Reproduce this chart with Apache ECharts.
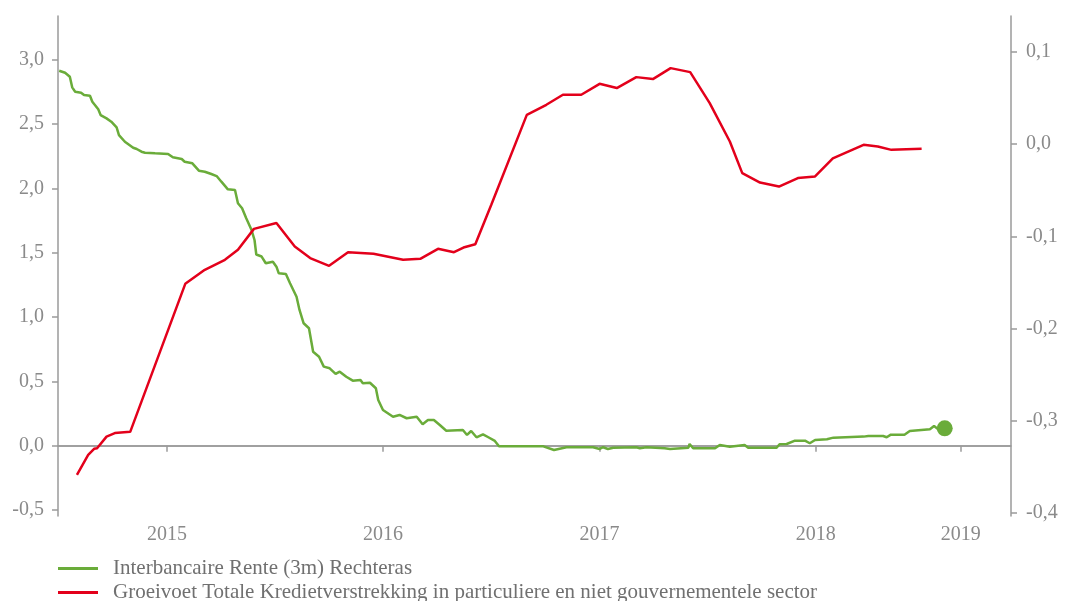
<!DOCTYPE html>
<html>
<head>
<meta charset="utf-8">
<script src="https://cdn.jsdelivr.net/npm/echarts@6/dist/echarts.min.js"></script>
<style>
  html, body { margin: 0; padding: 0; background: #fff; }
  #chart { width: 1065px; height: 601px; }
</style>
</head>
<body>
<div id="chart"></div>
<script>
// groeivoet kredietverstrekking (linkeras)
const redDates = [
  '2014-08-02', '2014-08-21', '2014-08-31', '2014-09-05', '2014-09-21', '2014-10-05', '2014-10-31',
  '2015-02-01', '2015-03-06', '2015-04-09', '2015-05-01', '2015-05-28', '2015-07-05', '2015-08-05',
  '2015-08-31', '2015-10-02', '2015-11-03', '2015-12-16', '2016-02-04', '2016-03-04', '2016-04-03',
  '2016-04-30', '2016-05-16', '2016-06-05', '2016-07-02', '2016-08-31', '2016-10-03', '2016-10-31',
  '2016-12-01', '2017-01-01', '2017-01-30', '2017-03-04', '2017-04-01', '2017-05-01', '2017-06-03',
  '2017-07-06', '2017-08-09', '2017-08-30', '2017-09-29', '2017-10-31', '2017-12-02', '2017-12-31',
  '2018-01-30', '2018-02-22', '2018-03-23', '2018-04-16', '2018-05-09', '2018-06-29'
]
const redValues = [
  -0.225, -0.07, -0.023, -0.018, 0.072, 0.099, 0.109,
  1.259, 1.368, 1.446, 1.523, 1.686, 1.731, 1.549,
  1.459, 1.399, 1.505, 1.492, 1.446, 1.453, 1.531,
  1.505, 1.541, 1.566, 1.873, 2.572, 2.650, 2.728,
  2.728, 2.813, 2.780, 2.865, 2.850, 2.935, 2.904,
  2.663, 2.365, 2.119, 2.046, 2.015, 2.081, 2.093,
  2.233, 2.280, 2.339, 2.326, 2.300, 2.308
]

// interbancaire rente 3m (rechteras)
const greenDates = [
  '2014-07-03', '2014-07-13', '2014-07-21', '2014-07-25', '2014-07-30', '2014-08-09', '2014-08-14',
  '2014-08-24', '2014-08-28', '2014-09-07', '2014-09-11', '2014-09-21', '2014-09-29', '2014-10-08',
  '2014-10-12', '2014-10-22', '2014-11-05', '2014-11-11', '2014-11-19', '2014-11-25', '2014-12-12',
  '2015-01-03', '2015-01-11', '2015-01-26', '2015-01-31', '2015-02-13', '2015-02-24', '2015-03-06',
  '2015-03-17', '2015-03-26', '2015-04-03', '2015-04-14', '2015-04-26', '2015-05-01', '2015-05-08',
  '2015-05-15', '2015-05-24', '2015-05-29', '2015-06-01', '2015-06-10', '2015-06-17', '2015-06-29',
  '2015-07-05', '2015-07-09', '2015-07-21', '2015-07-28', '2015-08-08', '2015-08-13', '2015-08-20',
  '2015-08-29', '2015-09-05', '2015-09-15', '2015-09-23', '2015-10-03', '2015-10-13', '2015-10-20',
  '2015-10-31', '2015-11-11', '2015-11-24', '2015-11-28', '2015-12-10', '2015-12-20', '2015-12-24',
  '2016-01-01', '2016-01-18', '2016-01-29', '2016-02-10', '2016-02-27', '2016-03-08', '2016-03-17',
  '2016-03-27', '2016-04-06', '2016-04-17', '2016-05-15', '2016-05-22', '2016-05-29', '2016-06-07',
  '2016-06-18', '2016-06-27', '2016-07-08', '2016-07-15', '2016-09-28', '2016-10-16', '2016-11-06',
  '2016-12-21', '2017-01-01', '2017-01-07', '2017-01-15', '2017-01-24', '2017-03-04', '2017-03-10',
  '2017-03-21', '2017-04-21', '2017-04-30', '2017-05-31', '2017-06-02', '2017-06-08', '2017-07-15',
  '2017-07-23', '2017-08-09', '2017-09-03', '2017-09-09', '2017-10-27', '2017-11-01', '2017-11-13',
  '2017-11-27', '2017-12-14', '2017-12-22', '2017-12-31', '2018-01-20', '2018-01-31', '2018-03-23',
  '2018-03-31', '2018-04-25', '2018-05-01', '2018-05-08', '2018-05-31', '2018-06-09', '2018-07-13',
  '2018-07-20', '2018-07-27', '2018-08-07'
]
const greenValues = [
  0.0794, 0.0772, 0.0729, 0.0614, 0.0567, 0.0556, 0.0531,
  0.0523, 0.0458, 0.0376, 0.0314, 0.0278, 0.0242, 0.0181,
  0.0097, 0.0025, -0.0040, -0.0054, -0.0083, -0.0094, -0.0101,
  -0.0108, -0.0144, -0.0162, -0.0192, -0.0209, -0.0289, -0.0300,
  -0.0325, -0.0347, -0.0408, -0.0491, -0.0498, -0.0642, -0.0696,
  -0.0805, -0.0932, -0.1040, -0.1197, -0.1219, -0.1292, -0.1275,
  -0.1329, -0.1401, -0.1408, -0.1509, -0.1654, -0.1798, -0.1942,
  -0.1996, -0.2250, -0.2304, -0.2412, -0.2430, -0.2491, -0.2466,
  -0.2521, -0.2564, -0.2556, -0.2592, -0.2586, -0.2646, -0.2773,
  -0.2881, -0.2954, -0.2935, -0.2971, -0.2954, -0.3036, -0.2990,
  -0.2990, -0.3044, -0.3106, -0.3098, -0.3152, -0.3109, -0.3177,
  -0.3145, -0.3177, -0.3217, -0.3275, -0.3275, -0.3315, -0.3285,
  -0.3285, -0.3304, -0.3285, -0.3304, -0.3290, -0.3285, -0.3296,
  -0.3285, -0.3296, -0.3304, -0.3290, -0.3250, -0.3296, -0.3296,
  -0.3260, -0.3279, -0.3260, -0.3290, -0.3290, -0.3253, -0.3250,
  -0.3214, -0.3214, -0.3242, -0.3206, -0.3199, -0.3181, -0.3170,
  -0.3163, -0.3163, -0.3177, -0.3149, -0.3149, -0.3109, -0.3090,
  -0.3055, -0.3090, -0.3080
]

const leftTicks = [-0.5, 0, 0.5, 1.0, 1.5, 2.0, 2.5, 3.0]
const rightTicks = [-0.4, -0.3, -0.2, -0.1, 0, 0.1]
const xTickDates = ['2015-01-01', '2016-01-01', '2017-01-01', '2018-01-01', '2018-09-03']
const xTickLabels = ['2015', '2016', '2017', '2018', '2019']

const greenName = 'Interbancaire Rente (3m) Rechteras'
const redName = 'Groeivoet Totale Kredietverstrekking in particuliere en niet gouvernementele sector'

const green = '#6aac3a'
const red = '#e3001b'
const axisGray = '#9a9a9a'
const labelGray = '#8a8a8a'
const fontFam = '"Liberation Serif", "DejaVu Serif", serif'

// datums als tijdstempels, zodat een gewone waarde-as eigen ticks kan krijgen
const toTime = d => echarts.time.parse(d).getTime()
const xTickTimes = xTickDates.map(toTime)
const fmtNum = v => (Math.round(v * 10) / 10).toFixed(1).replace('.', ',')

const redData = redDates.map((d, i) => [toTime(d), redValues[i]])
const greenData = greenDates.map((d, i) => {
  if (i === greenDates.length - 1) {
    return { value: [toTime(d), greenValues[i]], symbol: 'circle', symbolSize: 16 }
  }
  return [toTime(d), greenValues[i]]
})

const chart = echarts.init(document.getElementById('chart'))

const valueAxisBase = {
  type: 'value',
  splitLine: { show: false },
  axisLine: { show: true, lineStyle: { color: axisGray, width: 1.5 } },
  axisTick: { show: true, length: 6, lineStyle: { color: axisGray, width: 1.5 } },
}

// twee losse legenda's, anders breekt de verticale legenda af in kolommen
function legendRow(name, color, top) {
  return {
    orient: 'vertical',
    left: 53,
    top: top,
    itemWidth: 40,
    itemHeight: 3,
    icon: 'rect',
    data: [{ name: name, itemStyle: { color: color } }],
    textStyle: { color: '#707070', fontSize: 21, fontFamily: fontFam, padding: [0, 0, 0, 10] }
  }
}

chart.setOption({
  animation: false,
  textStyle: { fontFamily: fontFam },
  grid: { left: 58, right: 54, top: 16, bottom: 85, containLabel: false },
  legend: [
    legendRow(greenName, green, 553),
    legendRow(redName, red, 577)
  ],
  xAxis: {
    type: 'value',
    min: toTime('2014-07-01'),
    max: toTime('2018-11-27'),
    splitLine: { show: false },
    axisLine: { show: true, lineStyle: { color: axisGray, width: 1.5 } },
    axisTick: { show: true, length: 6, customValues: xTickTimes, lineStyle: { color: axisGray, width: 1.5 } },
    axisLabel: {
      customValues: xTickTimes,
      color: labelGray,
      fontSize: 20,
      fontFamily: fontFam,
      margin: 9,
      formatter: function (val) {
        const idx = xTickTimes.indexOf(val)
        return idx >= 0 ? xTickLabels[idx] : ''
      }
    }
  },
  yAxis: [
    Object.assign({}, valueAxisBase, {
      position: 'left',
      min: -0.545,
      max: 3.34,
      axisTick: Object.assign({}, valueAxisBase.axisTick, { customValues: leftTicks }),
      axisLabel: { customValues: leftTicks, color: labelGray, fontSize: 20, fontFamily: fontFam, margin: 14, formatter: fmtNum }
    }),
    Object.assign({}, valueAxisBase, {
      position: 'right',
      min: -0.403,
      max: 0.1387,
      axisTick: Object.assign({}, valueAxisBase.axisTick, { customValues: rightTicks }),
      axisLabel: { customValues: rightTicks, color: labelGray, fontSize: 20, fontFamily: fontFam, margin: 15, formatter: fmtNum }
    })
  ],
  series: [
    {
      name: greenName,
      type: 'line',
      yAxisIndex: 1,
      symbol: 'none',
      data: greenData,
      color: green,
      lineStyle: { width: 2.5, color: green },
      itemStyle: { color: green },
      z: 3
    },
    {
      name: redName,
      type: 'line',
      yAxisIndex: 0,
      symbol: 'none',
      data: redData,
      color: red,
      lineStyle: { width: 2.5, color: red },
      z: 4,
      markLine: {
        silent: true,
        symbol: 'none',
        label: { show: false },
        lineStyle: { color: axisGray, width: 1.5, type: 'solid' },
        data: [{ yAxis: 0 }],
        z: 1
      }
    }
  ]
})
</script>
</body>
</html>
